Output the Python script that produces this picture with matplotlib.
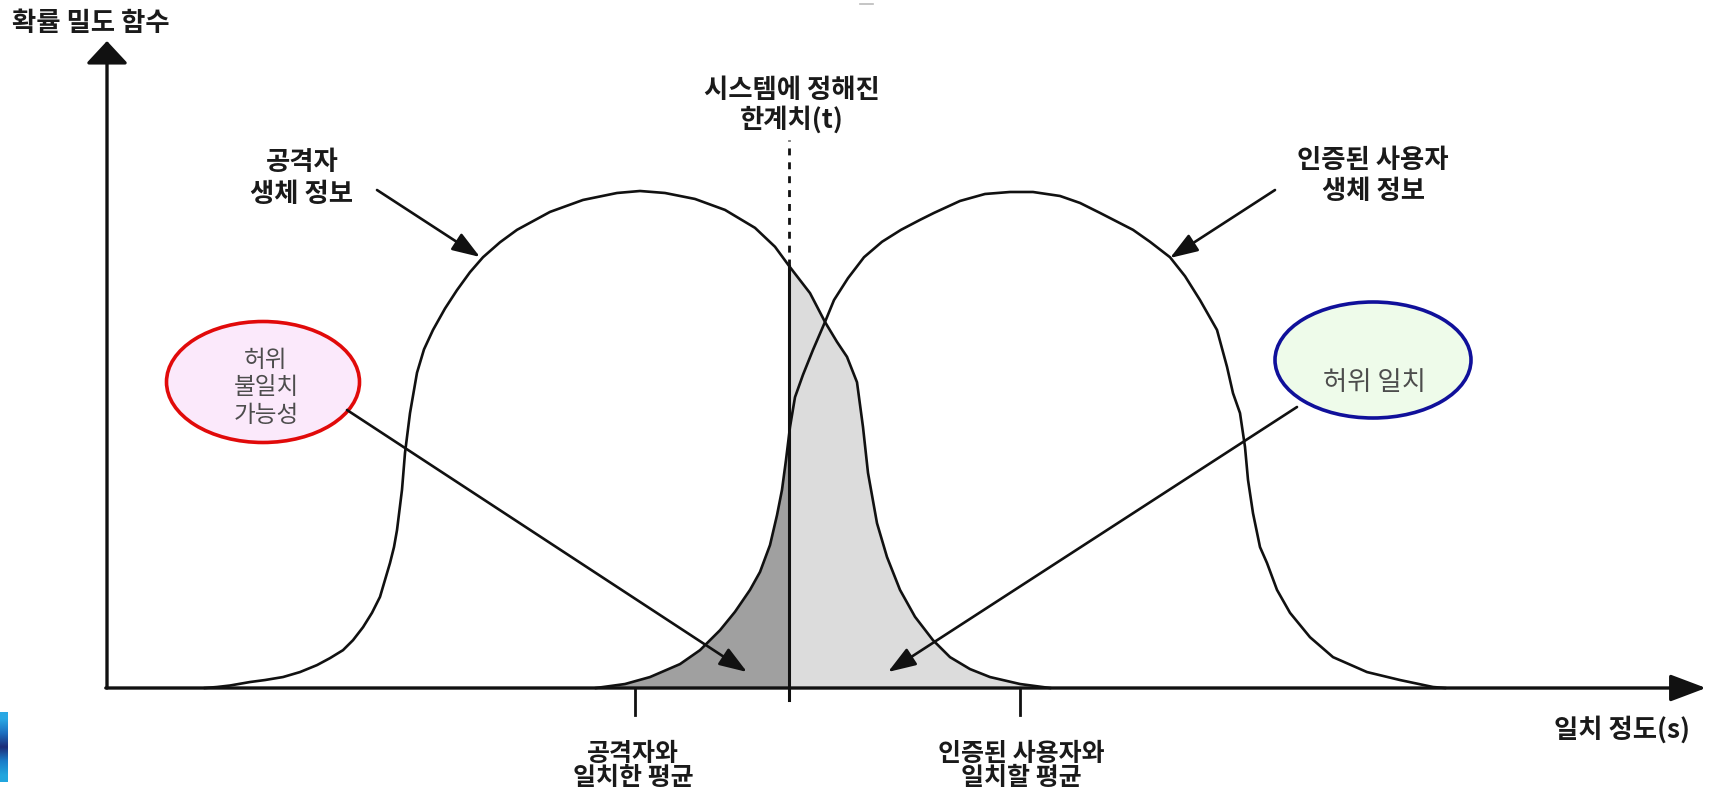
import numpy as np
import matplotlib
matplotlib.use("Agg")
import matplotlib.pyplot as plt
import matplotlib.patches as mpatches
from matplotlib.colors import to_rgb

plt.rcParams['font.family'] = ['Noto Sans CJK KR', 'DejaVu Sans']

# ---------------- data (score units on x, relative density on y) ----------------
attacker_x = [0.98, 1.10, 1.23, 1.43, 1.58, 1.76, 1.93, 2.10, 2.23, 2.36, 2.46, 2.56, 2.65,
              2.73, 2.78, 2.83, 2.87, 2.90, 2.95, 2.98, 3.03, 3.10, 3.17, 3.26, 3.38, 3.50,
              3.63, 3.76, 3.93, 4.10, 4.43, 4.76, 5.10, 5.33, 5.58, 5.88, 6.18, 6.48, 6.68,
              6.83, 7.03, 7.18, 7.30, 7.40, 7.50, 7.56, 7.61, 7.70, 7.80, 7.93, 8.08, 8.26,
              8.43, 8.63, 8.83, 9.13, 9.43]
attacker_y = [0.000, 0.002, 0.005, 0.012, 0.016, 0.022, 0.032, 0.046, 0.060, 0.076, 0.096, 0.122, 0.151,
              0.183, 0.217, 0.251, 0.283, 0.317, 0.398, 0.472, 0.552, 0.633, 0.680, 0.719, 0.762, 0.799,
              0.835, 0.865, 0.895, 0.920, 0.956, 0.980, 0.994, 0.998, 0.994, 0.982, 0.960, 0.924, 0.886,
              0.845, 0.793, 0.735, 0.695, 0.665, 0.614, 0.524, 0.432, 0.331, 0.263, 0.197, 0.143, 0.096,
              0.062, 0.038, 0.022, 0.008, 0.000]

user_x = [4.89, 5.18, 5.43, 5.73, 5.93, 6.13, 6.28, 6.43, 6.53, 6.63, 6.70, 6.75, 6.79, 6.83,
          6.88, 6.96, 7.06, 7.18, 7.27, 7.41, 7.57, 7.75, 7.94, 8.13, 8.27, 8.53, 8.78, 9.03,
          9.26, 9.53, 9.73, 9.93, 10.26, 10.43, 10.63, 10.78, 10.93, 11.10, 11.20, 11.26, 11.33,
          11.38, 11.41, 11.46, 11.53, 11.60, 11.70, 11.83, 12.03, 12.26, 12.60, 12.93, 13.26, 13.38]
user_y = [0.000, 0.008, 0.022, 0.048, 0.076, 0.116, 0.153, 0.197, 0.233, 0.287, 0.347, 0.398, 0.458, 0.524,
          0.584, 0.629, 0.679, 0.735, 0.779, 0.823, 0.865, 0.896, 0.920, 0.940, 0.954, 0.978, 0.992, 0.996,
          0.996, 0.988, 0.974, 0.954, 0.920, 0.896, 0.865, 0.827, 0.779, 0.719, 0.645, 0.592, 0.552,
          0.484, 0.418, 0.351, 0.283, 0.251, 0.197, 0.151, 0.102, 0.062, 0.032, 0.016, 0.002, 0.000]

threshold = 6.82
attacker_mean = 5.28
user_mean = 9.13

y_axis_label = "확률 밀도 함수"
x_axis_label = "일치 정도(s)"
threshold_label = ["시스템에 정해진", "한계치(t)"]
attacker_label = ["공격자", "생체 정보"]
user_label = ["인증된 사용자", "생체 정보"]
frr_label = ["허위", "불일치", "가능성"]
far_label = "허위 일치"
attacker_mean_label = ["공격자와", "일치한 평균"]
user_mean_label = ["인증된 사용자와", "일치할 평균"]

# ---------------- figure ----------------
W, H = 1712, 790
fig = plt.figure(figsize=(W / 100, H / 100), dpi=100)
ax = fig.add_axes([0, 0, 1, 1])
X0, Y0, XS, YS = 107.0, 688.0, 100.0, 498.0   # pixel origin and scale of the axes


def px(x):
    return (x - X0) / XS


def py(y):
    return (Y0 - y) / YS


ax.set_xlim(px(0), px(W))
ax.set_ylim(py(H), py(0))
ax.axis('off')

ink = '#111111'

# shaded error regions
dark = ax.fill_between(user_x, user_y, 0, color='#a0a0a0', lw=0, zorder=1)
clip_l = mpatches.Rectangle((0, -0.5), threshold, 3, transform=ax.transData)
dark.set_clip_path(clip_l)
light = ax.fill_between(attacker_x, attacker_y, 0, color='#dcdcdc', lw=0, zorder=1)
clip_r = mpatches.Rectangle((threshold, -0.5), 20, 3, transform=ax.transData)
light.set_clip_path(clip_r)

# curves
ax.plot(attacker_x, attacker_y, color=ink, lw=1.9, zorder=2, solid_joinstyle='round')
ax.plot(user_x, user_y, color=ink, lw=1.9, zorder=2, solid_joinstyle='round')

# threshold
ax.plot([threshold, threshold], [py(700), py(266)], color=ink, lw=2.2, zorder=3)
ax.plot([threshold, threshold], [py(266), py(140)], color=ink, lw=2.0, zorder=3,
        linestyle=(0, (2.5, 2.5)))

# axes with arrows
ax.annotate('', xy=(0, py(41)), xytext=(0, 0),
            arrowprops=dict(arrowstyle='-|>,head_length=14,head_width=13', mutation_scale=1,
                            lw=2.4, color=ink, shrinkA=0, shrinkB=0), zorder=3)
ax.annotate('', xy=(px(1706), 0), xytext=(-0.012, 0),
            arrowprops=dict(arrowstyle='-|>,head_length=22,head_width=8.3', mutation_scale=1,
                            lw=2.4, color=ink, shrinkA=0, shrinkB=0), zorder=3)

# mean ticks
for m in (attacker_mean, user_mean):
    ax.plot([m, m], [0, py(715)], color=ink, lw=2.0, zorder=3)

# ellipses
ax.add_patch(mpatches.Ellipse((px(263), py(382)), 193 / XS, 121 / YS,
                              facecolor='#fbe9fb', edgecolor='#e10a0a', lw=2.6, zorder=4))
ax.add_patch(mpatches.Ellipse((px(1373), py(360)), 196 / XS, 116 / YS,
                              facecolor='#eefbea', edgecolor='#10109a', lw=2.6, zorder=4))

# callout arrows
arrow_kw = dict(arrowstyle='-|>,head_length=17,head_width=6', mutation_scale=1,
                lw=1.9, color=ink, shrinkA=0, shrinkB=0)
ax.annotate('', xy=(px(480), py(257)), xytext=(px(377), py(190)), arrowprops=arrow_kw, zorder=4)
ax.annotate('', xy=(px(1170), py(258)), xytext=(px(1275), py(190)), arrowprops=arrow_kw, zorder=4)
ax.annotate('', xy=(px(747), py(672)), xytext=(px(347), py(410)), arrowprops=arrow_kw, zorder=4)
ax.annotate('', xy=(px(888), py(672)), xytext=(px(1297), py(407)), arrowprops=arrow_kw, zorder=4)

# texts
bold = dict(fontsize=19, fontweight='bold', color='#1a1a1a', ha='center', va='center', zorder=5)
ax.text(px(12), py(23), y_axis_label, **{**bold, 'ha': 'left'})
for s, yy in zip(threshold_label, (90, 120)):
    ax.text(px(792), py(yy), s, **bold)
for s, yy in zip(attacker_label, (163, 194)):
    ax.text(px(302), py(yy), s, **bold)
for s, yy in zip(user_label, (160, 191)):
    ax.text(px(1373), py(yy), s, **bold)
for s, yy in zip(attacker_mean_label, (754, 778)):
    ax.text(px(633), py(yy), s, **{**bold, 'fontsize': 18})
for s, yy in zip(user_mean_label, (754, 778)):
    ax.text(px(1021), py(yy), s, **{**bold, 'fontsize': 18})
ax.text(px(1622), py(730), x_axis_label, **bold)

grey = dict(fontsize=17, fontweight='medium', color='#4d4d4d', ha='center', va='center', zorder=5)
for s, yy in zip(frr_label, (360, 388, 415)):
    ax.text(px(266), py(yy), s, **grey)
ax.text(px(1374), py(382), far_label, **{**grey, 'fontsize': 19})

# small decorations seen in the picture
ax.plot([px(860), px(873)], [py(4), py(4)], color='#bbbbbb', lw=1.2)
grad = np.array([[to_rgb('#2aa8e4')], [to_rgb('#1d6fc0')], [to_rgb('#1c2c78')],
                 [to_rgb('#1a7cc8')], [to_rgb('#22a6de')]])
ax.imshow(grad, extent=(px(0), px(8), py(782), py(712)),
          aspect='auto', interpolation='bilinear', zorder=1)
ax.set_xlim(px(0), px(W))
ax.set_ylim(py(H), py(0))

fig.savefig('out.png', dpi=100)
